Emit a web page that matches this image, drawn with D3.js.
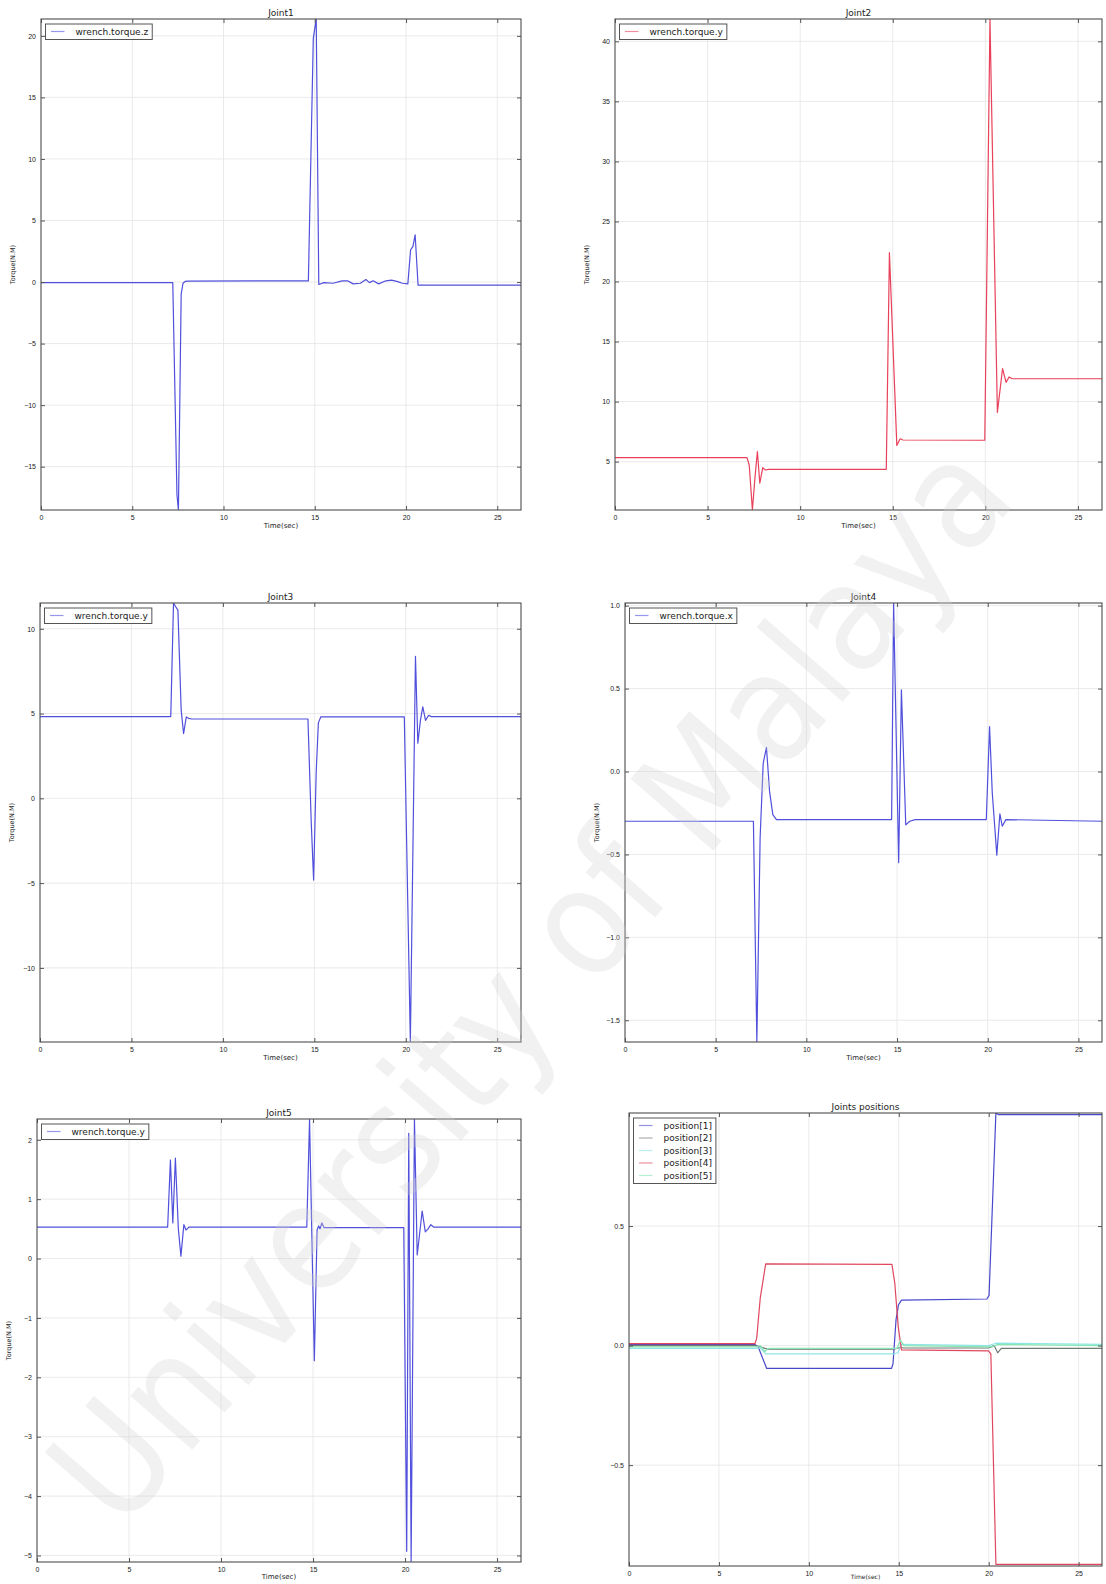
<!DOCTYPE html>
<html lang="en">
<head>
<meta charset="UTF-8" />
<title>Joint torques and positions</title>
<script src="https://d3js.org/d3.v7.min.js"></script>
<style>
  body { margin: 0; background: #fff; }
  svg { display: block; font-family: "DejaVu Sans", sans-serif; background: #fff; }
  .tick text { fill: #222; font-size: 7px; }
  .tick line { stroke: #555; }
  .grid line { stroke: #e4e4e4; stroke-width: 0.8; }
</style>
</head>
<body>
<svg id="chart" width="1106" height="1584"></svg>
<script>
// time ticks shared by every panel
const timeTicks = [0, 5, 10, 15, 20, 25];
const timeMax = 26.3;

// [time (s), torque (N.M)]
const joint1TorqueZ = [
  [0, -0.05], [7.22, -0.05], [7.45, -17.3], [7.53, -18.52], [7.68, -1.0], [7.78, -0.1],
  [7.9, 0.05], [8.0, 0.08], [14.65, 0.1], [14.92, 19.8], [15.08, 21.37], [15.22, -0.2],
  [15.5, -0.05], [16.0, -0.1], [16.5, 0.1], [16.8, 0.1], [17.1, -0.15], [17.5, -0.1],
  [17.8, 0.2], [18.0, -0.05], [18.2, 0.1], [18.5, -0.15], [18.9, 0.1], [19.2, 0.15],
  [19.5, 0.05], [19.8, -0.1], [20.1, -0.15], [20.25, 2.6], [20.38, 2.9], [20.5, 3.83],
  [20.66, -0.25], [26.3, -0.25]
];
const joint2TorqueY = [
  [0, 5.33], [7.13, 5.33], [7.25, 4.7], [7.42, 0.97], [7.55, 3.5], [7.69, 5.84],
  [7.82, 3.2], [7.98, 4.5], [8.12, 4.3], [8.3, 4.36], [14.65, 4.36], [14.82, 22.4],
  [15.22, 6.35], [15.4, 6.9], [15.55, 6.8], [19.97, 6.78], [20.25, 41.86], [20.65, 9.1],
  [20.93, 12.75], [21.12, 11.6], [21.28, 12.05], [21.45, 11.9], [26.3, 11.9]
];
const joint3TorqueY = [
  [0, 4.82], [7.15, 4.82], [7.3, 11.52], [7.42, 11.3], [7.54, 11.1], [7.72, 5.2],
  [7.85, 3.82], [8.0, 4.8], [8.12, 4.72], [8.3, 4.68], [14.65, 4.68], [14.83, -1.4],
  [14.96, -4.82], [15.1, 1.5], [15.22, 4.45], [15.35, 4.8], [19.92, 4.8], [20.25, -14.37],
  [20.53, 8.37], [20.66, 3.25], [20.8, 4.6], [20.93, 5.4], [21.08, 4.6], [21.25, 4.9],
  [21.4, 4.82], [26.3, 4.82]
];
const joint4TorqueX = [
  [0, -0.3], [7.08, -0.3], [7.27, -1.631], [7.45, -0.4], [7.62, 0.05], [7.8, 0.145],
  [7.97, -0.12], [8.15, -0.26], [8.35, -0.29], [14.7, -0.29], [14.81, 1.016], [15.09, -0.55],
  [15.24, 0.493], [15.48, -0.322], [15.7, -0.3], [16.0, -0.29], [19.92, -0.29], [20.1, 0.271],
  [20.25, -0.13], [20.5, -0.504], [20.67, -0.255], [20.8, -0.33], [21.0, -0.29], [26.3, -0.3]
];
const joint5TorqueY = [
  [0, 0.53], [7.1, 0.53], [7.25, 1.66], [7.38, 0.6], [7.52, 1.69], [7.68, 0.5],
  [7.82, 0.04], [7.98, 0.57], [8.1, 0.48], [8.25, 0.53], [14.66, 0.53], [14.81, 2.34],
  [15.07, -1.72], [15.22, 0.48], [15.3, 0.55], [15.38, 0.5], [15.48, 0.6], [15.6, 0.52],
  [19.93, 0.52], [20.09, -4.93], [20.2, 2.11], [20.33, -5.11], [20.51, 2.35], [20.66, 0.06],
  [20.93, 0.8], [21.1, 0.45], [21.25, 0.5], [21.4, 0.57], [21.55, 0.53], [26.3, 0.53]
];

// [time (s), position] for the five joints
const position1 = [
  [0, 0.005], [7.0, 0.005], [7.18, -0.005], [7.65, -0.095], [14.6, -0.095], [14.68, -0.076],
  [14.85, 0.11], [14.98, 0.17], [15.15, 0.19], [19.9, 0.195], [20.02, 0.21], [20.4, 0.973],
  [20.55, 0.966], [26.3, 0.966]
];
const position2 = [
  [0, 0.0], [7.0, 0.0], [7.3, -0.005], [7.7, -0.015], [14.7, -0.015], [15.1, -0.008],
  [15.3, -0.01], [20.0, -0.01], [20.3, 0.0], [20.5, -0.03], [20.7, -0.012], [26.3, -0.012]
];
const position3 = [
  [0, -0.012], [7.0, -0.012], [7.3, -0.01], [7.6, -0.035], [14.7, -0.035], [14.95, -0.03],
  [15.15, 0.005], [20.0, 0.0], [20.4, 0.01], [26.3, 0.005]
];
const position4 = [
  [0, 0.008], [7.0, 0.008], [7.1, 0.03], [7.3, 0.2], [7.6, 0.342], [14.62, 0.34],
  [14.78, 0.26], [14.97, 0.078], [15.15, -0.018], [19.99, -0.022], [20.12, -0.035],
  [20.4, -0.915], [26.3, -0.915]
];
const position5 = [
  [0, -0.005], [7.1, -0.005], [7.3, 0.0], [7.55, -0.025], [7.75, -0.012], [14.9, -0.012],
  [15.1, 0.022], [15.3, 0.0], [20.2, -0.005], [20.5, 0.005], [26.3, 0.0]
];

const blue = '#5050dc';
const red = '#e8415a';

const panels = [
  {
    title: 'Joint1', box: [41, 19, 521, 510], yDomain: [-18.52, 21.37],
    yTicks: [-15, -10, -5, 0, 5, 10, 15, 20], fmt: d3.format('d'), yLabel: true, xLabelDy: 18,
    series: [{ name: 'wrench.torque.z', data: joint1TorqueZ, color: blue }]
  },
  {
    title: 'Joint2', box: [615, 19, 1102, 510], yDomain: [0.97, 41.86],
    yTicks: [5, 10, 15, 20, 25, 30, 35, 40], fmt: d3.format('d'), yLabel: true, xLabelDy: 18,
    series: [{ name: 'wrench.torque.y', data: joint2TorqueY, color: red }]
  },
  {
    title: 'Joint3', box: [40, 603, 521, 1042], yDomain: [-14.37, 11.52],
    yTicks: [-10, -5, 0, 5, 10], fmt: d3.format('d'), yLabel: true, xLabelDy: 18,
    series: [{ name: 'wrench.torque.y', data: joint3TorqueY, color: blue }]
  },
  {
    title: 'Joint4', box: [625, 603, 1102, 1042], yDomain: [-1.631, 1.016],
    yTicks: [-1.5, -1.0, -0.5, 0.0, 0.5, 1.0], fmt: d3.format('.1f'), yLabel: true, xLabelDy: 18,
    series: [{ name: 'wrench.torque.x', data: joint4TorqueX, color: blue }]
  },
  {
    title: 'Joint5', box: [37, 1119, 521, 1562], yDomain: [-5.11, 2.35],
    yTicks: [-5, -4, -3, -2, -1, 0, 1, 2], fmt: d3.format('d'), yLabel: true, xLabelDy: 17,
    series: [{ name: 'wrench.torque.y', data: joint5TorqueY, color: blue }]
  },
  {
    title: 'Joints positions', box: [629, 1113, 1102, 1566], yDomain: [-0.922, 0.973],
    yTicks: [-0.5, 0.0, 0.5], fmt: d3.format('.1f'), yLabel: false, xLabelDy: 13,
    series: [
      { name: 'position[1]', data: position1, color: '#4848cc' },
      { name: 'position[2]', data: position2, color: '#6f7a72' },
      { name: 'position[3]', data: position3, color: '#8fe6e6' },
      { name: 'position[4]', data: position4, color: '#e0475e' },
      { name: 'position[5]', data: position5, color: '#86e6b4' }
    ]
  }
];

const svg = d3.select('#chart');

panels.forEach((p, i) => {
  const [left, top, right, bottom] = p.box;
  const w = right - left, h = bottom - top;
  const g = svg.append('g').attr('transform', `translate(${left},${top})`);

  const x = d3.scaleLinear().domain([0, timeMax]).range([0, w]);
  const y = d3.scaleLinear().domain(p.yDomain).range([h, 0]);

  // grid
  const grid = g.append('g').attr('class', 'grid');
  grid.selectAll('.vx').data(timeTicks.filter((t) => t > 0)).join('line')
    .attr('x1', (d) => x(d)).attr('x2', (d) => x(d)).attr('y1', 0).attr('y2', h);
  grid.selectAll('.hy').data(p.yTicks).join('line')
    .attr('x1', 0).attr('x2', w).attr('y1', (d) => y(d)).attr('y2', (d) => y(d));

  const clipId = 'clip' + i;
  g.append('clipPath').attr('id', clipId)
    .append('rect').attr('width', w).attr('height', h);

  const line = d3.line().x((d) => x(d[0])).y((d) => y(d[1]));
  p.series.forEach((s) => {
    g.append('path')
      .datum(s.data)
      .attr('clip-path', `url(#${clipId})`)
      .attr('fill', 'none')
      .attr('stroke', s.color)
      .attr('stroke-width', 1.2)
      .attr('stroke-linejoin', 'round')
      .attr('d', line);
  });

  // axes with inward ticks on all four sides
  g.append('g').attr('transform', `translate(0,${h})`)
    .call(d3.axisBottom(x).tickValues(timeTicks).tickSize(-4).tickPadding(5).tickFormat(d3.format('d')))
    .call((a) => a.select('.domain').remove());
  g.append('g')
    .call(d3.axisTop(x).tickValues(timeTicks).tickSize(-4).tickFormat(''))
    .call((a) => a.select('.domain').remove());
  g.append('g')
    .call(d3.axisLeft(y).tickValues(p.yTicks).tickSize(-4).tickPadding(5).tickFormat(p.fmt))
    .call((a) => a.select('.domain').remove());
  g.append('g').attr('transform', `translate(${w},0)`)
    .call(d3.axisRight(y).tickValues(p.yTicks).tickSize(-4).tickFormat(''))
    .call((a) => a.select('.domain').remove());

  g.append('rect')
    .attr('width', w).attr('height', h)
    .attr('fill', 'none').attr('stroke', '#4d4d4d').attr('stroke-width', 1.1);

  g.append('text')
    .attr('x', w / 2).attr('y', -3)
    .attr('text-anchor', 'middle')
    .attr('font-size', 9).attr('fill', '#222')
    .text(p.title);

  g.append('text')
    .attr('x', w / 2).attr('y', h + p.xLabelDy)
    .attr('text-anchor', 'middle')
    .attr('font-size', p.yLabel ? 7 : 6).attr('fill', '#222')
    .text('Time(sec)');

  if (p.yLabel) {
    g.append('text')
      .attr('transform', `translate(-26,${h / 2}) rotate(-90)`)
      .attr('text-anchor', 'middle')
      .attr('font-size', 6.5).attr('fill', '#222')
      .text('Torque(N.M)');
  }

  // legend
  const lg = g.append('g').attr('transform', 'translate(4.5,5)');
  const rowH = 12.5;
  const box = lg.append('rect')
    .attr('fill', '#fff').attr('stroke', '#555').attr('stroke-width', 1);
  let maxW = 0;
  p.series.forEach((s, k) => {
    const cy = 7.5 + k * rowH;
    lg.append('line')
      .attr('x1', 5.5).attr('x2', 19).attr('y1', cy).attr('y2', cy)
      .attr('stroke', s.color).attr('stroke-opacity', 0.6).attr('stroke-width', 1.2);
    const t = lg.append('text')
      .attr('x', 30).attr('y', cy + 3.2)
      .attr('font-size', 9).attr('fill', '#222')
      .text(s.name);
    maxW = Math.max(maxW, t.node().getComputedTextLength());
  });
  box.attr('width', 30 + maxW + 4).attr('height', 15.5 + (p.series.length - 1) * rowH);
});

// faint watermark of the source document
svg.append('text')
  .attr('transform', 'translate(530,982) rotate(-49)')
  .attr('text-anchor', 'middle')
  .attr('dominant-baseline', 'central')
  .attr('font-size', 150)
  .attr('textLength', 1370)
  .attr('lengthAdjust', 'spacingAndGlyphs')
  .attr('fill', '#cfcfcf')
  .attr('fill-opacity', 0.3)
  .text('University of Malaya');
</script>
</body>
</html>
